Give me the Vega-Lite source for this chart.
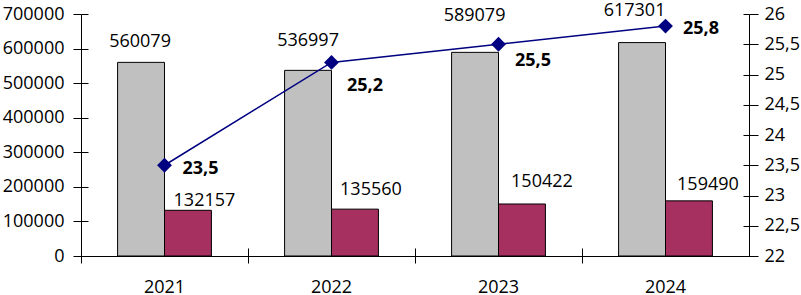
{
  "$schema": "https://vega.github.io/schema/vega-lite/v6.json",
  "width": 668,
  "height": 242,
  "autosize": {"type": "none"},
  "padding": {"left": 81, "top": 14, "right": 52, "bottom": 39},
  "config": {
    "locale": {"number": {"decimal": ",", "thousands": " ", "grouping": [3], "currency": ["", ""]}},
    "view": {"stroke": null},
    "font": "Open Sans",
    "text": {"font": "Open Sans", "fontSize": 18, "color": "black"},
    "axis": {"labelFont": "Open Sans", "labelFontSize": 18, "labelColor": "black", "domainColor": "black", "tickColor": "black", "domainWidth": 1, "tickWidth": 1, "grid": false, "title": null}
  },
  "datasets": {
    "bars": [
      {"year": "2021", "series": "A", "value": 560079},
      {"year": "2021", "series": "B", "value": 132157},
      {"year": "2022", "series": "A", "value": 536997},
      {"year": "2022", "series": "B", "value": 135560},
      {"year": "2023", "series": "A", "value": 589079},
      {"year": "2023", "series": "B", "value": 150422},
      {"year": "2024", "series": "A", "value": 617301},
      {"year": "2024", "series": "B", "value": 159490}
    ],
    "line": [
      {"year": "2021", "pct": 23.5},
      {"year": "2022", "pct": 25.2},
      {"year": "2023", "pct": 25.5},
      {"year": "2024", "pct": 25.8}
    ]
  },
  "layer": [
    {
      "data": {"name": "bars"},
      "encoding": {
        "x": {"field": "year", "type": "nominal", "scale": {"paddingInner": 0, "paddingOuter": 0},
              "axis": {"orient": "bottom", "labels": false, "ticks": true, "tickSize": 7, "bandPosition": 0, "domain": true, "title": null}},
        "xOffset": {"field": "series", "type": "nominal", "scale": {"paddingInner": 0, "paddingOuter": 0.78}},
        "y": {"field": "value", "type": "quantitative", "scale": {"domain": [0, 700000], "nice": false},
              "axis": {"orient": "left", "values": [0, 100000, 200000, 300000, 400000, 500000, 600000, 700000], "tickSize": 8, "labelPadding": 9, "format": "d", "title": null}}
      },
      "layer": [
        {"mark": {"type": "bar", "stroke": "black", "strokeWidth": 1},
         "encoding": {"color": {"field": "series", "type": "nominal", "scale": {"domain": ["A", "B"], "range": ["#c0c0c0", "#a63060"]}, "legend": null}}},
        {"transform": [{"filter": "datum.year == '2021' && datum.series == 'A'"}], "mark": {"type": "text", "dx": -1, "dy": -20, "baseline": "middle"}, "encoding": {"text": {"field": "value", "type": "quantitative", "format": "d"}}},
        {"transform": [{"filter": "datum.year == '2022' && datum.series == 'A'"}], "mark": {"type": "text", "dx": 0, "dy": -29, "baseline": "middle"}, "encoding": {"text": {"field": "value", "type": "quantitative", "format": "d"}}},
        {"transform": [{"filter": "datum.year == '2023' && datum.series == 'A'"}], "mark": {"type": "text", "dx": -0.5, "dy": -36, "baseline": "middle"}, "encoding": {"text": {"field": "value", "type": "quantitative", "format": "d"}}},
        {"transform": [{"filter": "datum.year == '2024' && datum.series == 'A'"}], "mark": {"type": "text", "dx": -7.5, "dy": -31.5, "baseline": "middle"}, "encoding": {"text": {"field": "value", "type": "quantitative", "format": "d"}}},
        {"transform": [{"filter": "datum.year == '2021' && datum.series == 'B'"}], "mark": {"type": "text", "dx": 16.5, "dy": -9, "baseline": "middle"}, "encoding": {"text": {"field": "value", "type": "quantitative", "format": "d"}}},
        {"transform": [{"filter": "datum.year == '2022' && datum.series == 'B'"}], "mark": {"type": "text", "dx": 16, "dy": -19.5, "baseline": "middle"}, "encoding": {"text": {"field": "value", "type": "quantitative", "format": "d"}}},
        {"transform": [{"filter": "datum.year == '2023' && datum.series == 'B'"}], "mark": {"type": "text", "dx": 20, "dy": -21.5, "baseline": "middle"}, "encoding": {"text": {"field": "value", "type": "quantitative", "format": "d"}}},
        {"transform": [{"filter": "datum.year == '2024' && datum.series == 'B'"}], "mark": {"type": "text", "dx": 19, "dy": -16, "baseline": "middle"}, "encoding": {"text": {"field": "value", "type": "quantitative", "format": "d"}}}
      ]
    },
    {
      "data": {"name": "bars"},
      "mark": {"type": "bar", "opacity": 0},
      "encoding": {
        "x": {"field": "year", "type": "nominal",
              "axis": {"orient": "bottom", "offset": -8, "labels": false, "ticks": true, "tickSize": 8, "bandPosition": 0, "domain": false, "title": null}},
        "y": {"field": "value", "type": "quantitative", "scale": {"domain": [0, 700000], "nice": false},
              "axis": {"orient": "left", "offset": -7, "values": [0, 100000, 200000, 300000, 400000, 500000, 600000, 700000], "tickSize": 7, "labels": false, "domain": false, "title": null}}
      }
    },
    {
      "data": {"name": "line"},
      "mark": {"type": "point", "opacity": 0},
      "encoding": {
        "x": {"field": "year", "type": "nominal", "axis": null},
        "y": {"field": "pct", "type": "quantitative", "scale": {"domain": [22, 26], "nice": false, "zero": false},
              "axis": {"orient": "right", "offset": -6, "values": [22, 22.5, 23, 23.5, 24, 24.5, 25, 25.5, 26], "tickSize": 6, "labels": false, "domain": false, "title": null}}
      }
    },
    {
      "data": {"name": "line"},
      "encoding": {
        "x": {"field": "year", "type": "nominal",
              "axis": {"orient": "bottom", "labels": true, "ticks": false, "tickSize": 0, "domain": false, "labelPadding": 22.5, "labelAngle": 0, "title": null}},
        "y": {"field": "pct", "type": "quantitative", "scale": {"domain": [22, 26], "nice": false, "zero": false},
              "axis": {"orient": "right", "values": [22, 22.5, 23, 23.5, 24, 24.5, 25, 25.5, 26], "format": ".1~f", "tickSize": 9, "labelPadding": 6, "title": null}}
      },
      "layer": [
        {"mark": {"type": "line", "color": "#000080", "strokeWidth": 1.5}},
        {"mark": {"type": "point", "shape": "diamond", "filled": true, "size": 220, "color": "#000080", "opacity": 1}},
        {"transform": [{"filter": "datum.year == '2021'"}], "mark": {"type": "text", "align": "left", "baseline": "middle", "fontWeight": "bold", "dx": 18, "dy": 4}, "encoding": {"text": {"field": "pct", "type": "quantitative", "format": ".1f"}}},
        {"transform": [{"filter": "datum.year == '2022'"}], "mark": {"type": "text", "align": "left", "baseline": "middle", "fontWeight": "bold", "dx": 15.5, "dy": 24}, "encoding": {"text": {"field": "pct", "type": "quantitative", "format": ".1f"}}},
        {"transform": [{"filter": "datum.year == '2023'"}], "mark": {"type": "text", "align": "left", "baseline": "middle", "fontWeight": "bold", "dx": 16.5, "dy": 17}, "encoding": {"text": {"field": "pct", "type": "quantitative", "format": ".1f"}}},
        {"transform": [{"filter": "datum.year == '2024'"}], "mark": {"type": "text", "align": "left", "baseline": "middle", "fontWeight": "bold", "dx": 17.5, "dy": 2.5}, "encoding": {"text": {"field": "pct", "type": "quantitative", "format": ".1f"}}}
      ]
    }
  ],
  "resolve": {"scale": {"y": "independent"}, "axis": {"x": "independent"}}
}
